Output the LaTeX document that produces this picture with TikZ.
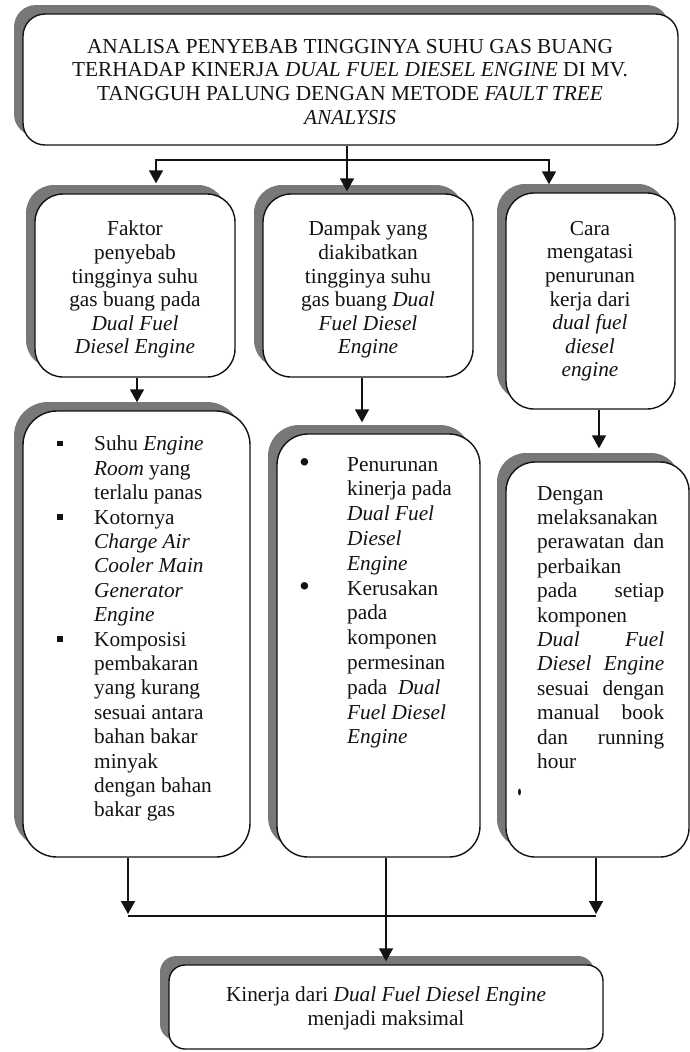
\documentclass[tikz,border=0pt]{standalone}
\usepackage{fontspec}
\setmainfont{Liberation Serif}
\usetikzlibrary{arrows.meta,shadows,calc}
\definecolor{shadowgray}{RGB}{120,120,120}
\definecolor{ink}{RGB}{20,18,18}
\newcommand\jusln[2]{\hbox to 127pt{#1\hfill #2}}
\newcommand\sqbul{\makebox[37pt][l]{\raisebox{4.5pt}{\rule{5.5pt}{5.5pt}}}}
\newcommand\sqsp{\makebox[37pt][l]{}}
\newcommand\rdbul{\makebox[47pt][l]{\hspace*{-1pt}\raisebox{-1.8pt}{\scalebox{1.45}{•}}}}
\newcommand\rdsp{\makebox[47pt][l]{}}
\begin{document}
\begin{tikzpicture}[x=1pt,y=-1pt,
  box/.style={draw=ink, line width=1.4pt, fill=white, inner sep=0pt,
    general shadow={fill=shadowgray, shadow xshift=-9pt, shadow yshift=9pt}},
  txt/.style={inner sep=0pt, text=ink, font=\fontsize{21.3}{23.6}\selectfont},
  conn/.style={draw=ink, line width=1.7pt},
  arr/.style={conn, -{Triangle[length=13pt,width=14pt]}}]
\useasboundingbox (0,0) rectangle (690,1052);

% boxes
\node[box, rounded corners=22pt, minimum width=655pt, minimum height=131pt] (top) at (350.5,79.5) {};
\node[box, rounded corners=28pt, minimum width=200pt, minimum height=183pt] (b1) at (135,285.5) {};
\node[box, rounded corners=28pt, minimum width=210pt, minimum height=183pt] (b2) at (368,285.5) {};
\node[box, rounded corners=28pt, minimum width=169pt, minimum height=216pt] (b3) at (590.5,301) {};
\node[box, rounded corners=34pt, minimum width=227pt, minimum height=446pt] (b4) at (136.5,634) {};
\node[box, rounded corners=31pt, minimum width=203pt, minimum height=423pt] (b5) at (378.5,645.5) {};
\node[box, rounded corners=29pt, minimum width=183pt, minimum height=395pt] (b6) at (597.5,659.5) {};
\node[box, rounded corners=16pt, minimum width=434pt, minimum height=84pt] (bot) at (386,1007) {};

% texts
\node[txt, align=center, anchor=north] (ttop) at (350,39)
  {ANALISA PENYEBAB TINGGINYA SUHU GAS BUANG\\
   TERHADAP KINERJA \textit{DUAL FUEL DIESEL ENGINE} DI MV.\\
   TANGGUH PALUNG DENGAN METODE \textit{FAULT TREE}\\
   \textit{ANALYSIS}};
\node[txt, align=center, anchor=north] (t1) at (135,221)
  {Faktor\\ penyebab\\ tingginya suhu\\ gas buang pada\\ \textit{Dual Fuel}\\ \textit{Diesel Engine}};
\node[txt, align=center, anchor=north] (t2) at (368,221)
  {Dampak yang\\ diakibatkan\\ tingginya suhu\\ gas buang \textit{Dual}\\ \textit{Fuel Diesel}\\ \textit{Engine}};
\node[txt, align=center, anchor=north] (t3) at (590,221)
  {Cara\\ mengatasi\\ penurunan\\ kerja dari\\ \textit{dual fuel}\\ \textit{diesel}\\ \textit{engine}};
\node[txt, font=\fontsize{21.3}{24.4}\selectfont, align=left, anchor=north west] (t4) at (57,436)
  {\sqbul Suhu \textit{Engine}\\
   \sqsp\textit{Room} yang\\
   \sqsp terlalu panas\\
   \sqbul Kotornya\\
   \sqsp\textit{Charge Air}\\
   \sqsp\textit{Cooler Main}\\
   \sqsp\textit{Generator}\\
   \sqsp\textit{Engine}\\
   \sqbul Komposisi\\
   \sqsp pembakaran\\
   \sqsp yang kurang\\
   \sqsp sesuai antara\\
   \sqsp bahan bakar\\
   \sqsp minyak\\
   \sqsp dengan bahan\\
   \sqsp bakar gas};
\node[txt, font=\fontsize{21.3}{24.8}\selectfont, align=left, anchor=north west] (t5) at (300,457)
  {\rdbul Penurunan\\
   \rdsp kinerja pada\\
   \rdsp\textit{Dual Fuel}\\
   \rdsp\textit{Diesel}\\
   \rdsp\textit{Engine}\\
   \rdbul Kerusakan\\
   \rdsp pada\\
   \rdsp komponen\\
   \rdsp permesinan\\
   \rdsp pada \ \textit{Dual}\\
   \rdsp\textit{Fuel Diesel}\\
   \rdsp\textit{Engine}};
\node[txt, font=\fontsize{21.3}{24.4}\selectfont, align=left, anchor=north west] (t6) at (537,486)
  {Dengan\\
   melaksanakan\\
   \jusln{perawatan}{dan}\\
   perbaikan\\
   \jusln{pada}{setiap}\\
   komponen\\
   \jusln{\textit{Dual}}{\textit{Fuel}}\\
   \jusln{\textit{Diesel}}{\textit{Engine}}\\
   \jusln{sesuai}{dengan}\\
   \jusln{manual}{book}\\
   \jusln{dan}{running}\\
   hour};
\fill[ink] (519.5,792) ellipse [x radius=1.4pt, y radius=3.4pt];
\node[txt, font=\fontsize{21.3}{24}\selectfont, align=center, anchor=north] (t7) at (386,987)
  {Kinerja dari \textit{Dual Fuel Diesel Engine}\\ menjadi maksimal};

% connectors
\coordinate (j1) at (347,160);
\coordinate (jl) at (156,160);
\coordinate (jr) at (549,160);
\draw[arr, shorten >=2pt] (top.south -| j1) -- (j1 |- b2.north);
\draw[arr, shorten >=10pt] (j1) -- (jl) -- (jl |- b1.north);
\draw[arr, shorten >=8pt] (j1) -- (jr) -- (jr |- b3.north);

\draw[arr, shorten >=8pt] ([xshift=2pt]b1.south) -- ([xshift=2pt]b1.south |- b4.north);
\draw[arr, shorten >=11pt] ([xshift=-6pt]b2.south) -- ([xshift=-6pt]b2.south |- b5.north);
\draw[arr, shorten >=13pt] ([xshift=8.5pt]b3.south) -- ([xshift=8.5pt]b3.south |- b6.north);

\coordinate (hl) at (128,916);
\coordinate (hr) at (596,916);
\draw[arr, shorten >=2pt] (b4.south -| hl) -- (hl);
\draw[arr, shorten >=2pt] (b6.south -| hr) -- (hr);
\draw[conn] (hl) -- (hr);
\draw[arr, shorten >=3pt] (b5.south -| bot.north) -- (bot.north);
\end{tikzpicture}
\end{document}
